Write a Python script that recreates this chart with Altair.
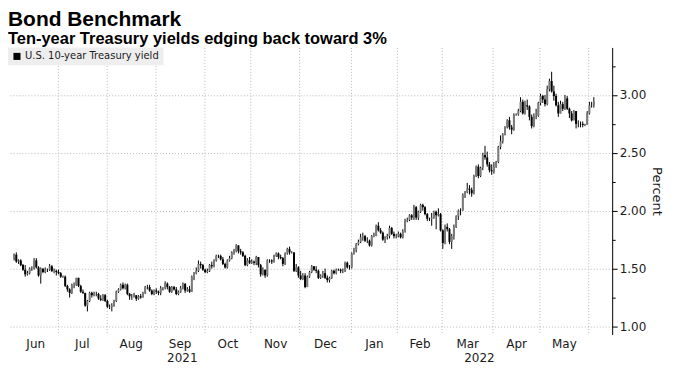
import altair as alt
import pandas as pd

TITLE = "Bond Benchmark"
SUBTITLE = "Ten-year Treasury yields edging back toward 3%"
SERIES = "U.S. 10-year Treasury yield"
Y_TITLE = "Percent"
FIRST_DAY = "2021-06-03"
LAST_DAY = "2022-06-03"
y_major = [1.0, 1.5, 2.0, 2.5, 3.0]
y_minor = [1.25, 1.75, 2.25, 2.75, 3.25]

opens = [
    1.59,1.62,1.56,1.57,1.53,1.49,1.45,1.46,1.50,1.50,1.57,1.51,1.44,1.50,1.47,1.49,1.49,1.52,1.48,1.48,
    1.47,1.46,1.43,1.43,1.35,1.32,1.29,1.36,1.36,1.42,1.35,1.30,1.29,1.18,1.22,1.29,1.27,1.28,1.28,1.24,1.23,1.27,
    1.22,1.17,1.17,1.18,1.22,1.30,1.32,1.36,1.33,1.36,1.28,1.26,1.26,1.27,1.24,1.26,1.25,1.29,1.34,1.34,1.31,1.28,
    1.31,1.30,1.29,1.33,1.33,1.37,1.34,1.30,1.34,1.32,1.28,1.30,1.33,1.37,1.31,1.32,1.30,1.43,1.46,1.48,1.54,1.53,
    1.49,1.47,1.48,1.53,1.52,1.57,1.61,1.61,1.58,1.54,1.51,1.57,1.59,1.64,1.65,1.70,1.65,1.64,1.61,1.53,1.57,
    1.55,1.56,1.55,1.60,1.53,1.45,1.49,1.44,1.57,1.57,1.56,1.61,1.63,1.60,1.59,1.54,1.63,1.67,1.64,1.64,1.48,1.51,
    1.44,1.41,1.44,1.34,1.43,1.47,1.52,1.49,1.48,1.42,1.44,1.46,1.42,1.40,1.42,1.48,1.46,1.49,1.49,1.48,1.48,1.55,1.51,
    1.51,1.63,1.66,1.71,1.73,1.77,1.78,1.74,1.74,1.70,1.78,1.78,1.87,1.83,1.81,1.75,1.77,1.78,1.85,1.80,1.78,
    1.78,1.80,1.77,1.82,1.91,1.92,1.96,1.94,2.03,1.94,1.99,2.05,2.03,1.97,1.93,1.93,1.94,1.99,1.96,1.97,
    1.83,1.72,1.86,1.84,1.73,1.78,1.86,1.95,2.00,2.00,2.14,2.16,2.19,2.18,2.15,2.30,2.38,2.30,2.37,2.48,2.46,2.40,2.35,
    2.34,2.38,2.42,2.55,2.60,2.66,2.72,2.78,2.72,2.70,2.83,2.83,2.86,2.94,2.84,2.91,2.90,2.81,2.73,2.82,2.82,
    2.93,2.99,2.96,2.92,3.05,3.12,3.03,2.99,2.91,2.84,2.92,2.88,2.97,2.88,2.84,2.78,2.86,2.75,2.75,2.75,2.74,2.74,
    2.84,2.91,2.91,
]
highs = [
    1.63,1.64,1.58,1.58,1.54,1.53,1.48,1.51,1.52,1.59,1.59,1.52,1.51,1.50,1.51,1.50,1.54,1.53,1.50,1.49,
    1.49,1.47,1.44,1.44,1.36,1.33,1.37,1.38,1.42,1.42,1.36,1.32,1.29,1.23,1.30,1.30,1.30,1.30,1.29,1.27,1.28,1.28,
    1.23,1.19,1.20,1.23,1.31,1.33,1.37,1.38,1.37,1.37,1.29,1.28,1.29,1.27,1.27,1.28,1.30,1.35,1.36,1.36,1.32,1.32,
    1.33,1.31,1.35,1.34,1.39,1.38,1.35,1.35,1.35,1.34,1.31,1.35,1.38,1.37,1.34,1.35,1.44,1.47,1.51,1.57,1.56,1.54,
    1.50,1.50,1.54,1.56,1.58,1.62,1.62,1.62,1.60,1.55,1.58,1.61,1.65,1.67,1.71,1.70,1.67,1.65,1.62,1.59,1.60,
    1.58,1.57,1.61,1.60,1.54,1.51,1.49,1.58,1.58,1.58,1.62,1.64,1.64,1.62,1.60,1.64,1.68,1.69,1.65,1.64,1.54,1.52,
    1.48,1.46,1.46,1.44,1.48,1.53,1.52,1.52,1.49,1.45,1.48,1.50,1.44,1.43,1.49,1.49,1.50,1.50,1.50,1.50,1.56,1.56,1.53,
    1.64,1.68,1.72,1.75,1.80,1.81,1.79,1.77,1.75,1.79,1.81,1.88,1.90,1.85,1.82,1.78,1.80,1.87,1.86,1.82,1.80,
    1.82,1.81,1.84,1.93,1.94,1.97,1.97,2.05,2.04,2.00,2.06,2.06,2.04,1.98,1.94,1.98,2.00,2.00,2.02,1.98,
    1.84,1.88,1.89,1.85,1.80,1.88,1.96,2.01,2.02,2.15,2.17,2.24,2.22,2.20,2.31,2.39,2.40,2.38,2.50,2.56,2.51,2.42,2.40,
    2.42,2.43,2.56,2.65,2.67,2.73,2.79,2.81,2.74,2.84,2.84,2.88,2.98,2.96,2.95,2.96,2.91,2.83,2.84,2.88,2.94,
    3.01,3.00,3.00,3.08,3.14,3.20,3.08,3.01,2.94,2.95,2.94,3.00,2.99,2.89,2.86,2.87,2.86,2.78,2.77,2.77,2.75,2.86,
    2.94,2.94,2.98,
]
lows = [
    1.57,1.55,1.54,1.52,1.48,1.43,1.44,1.45,1.48,1.49,1.50,1.43,1.37,1.46,1.46,1.47,1.48,1.47,1.46,1.44,
    1.45,1.42,1.42,1.34,1.30,1.25,1.28,1.33,1.35,1.34,1.29,1.28,1.17,1.13,1.21,1.25,1.26,1.26,1.23,1.22,1.22,1.21,
    1.16,1.15,1.13,1.17,1.21,1.29,1.31,1.32,1.32,1.27,1.23,1.23,1.25,1.22,1.23,1.24,1.25,1.28,1.32,1.30,1.27,1.27,
    1.28,1.27,1.27,1.31,1.32,1.32,1.29,1.29,1.31,1.27,1.27,1.29,1.32,1.29,1.30,1.29,1.30,1.40,1.45,1.47,1.50,1.48,
    1.46,1.46,1.47,1.50,1.51,1.56,1.59,1.57,1.53,1.50,1.50,1.56,1.58,1.62,1.64,1.63,1.62,1.60,1.52,1.52,1.54,
    1.54,1.53,1.53,1.51,1.43,1.44,1.42,1.43,1.55,1.54,1.55,1.60,1.58,1.58,1.52,1.53,1.62,1.62,1.63,1.47,1.47,1.42,
    1.40,1.40,1.33,1.34,1.42,1.46,1.48,1.46,1.41,1.41,1.42,1.41,1.38,1.38,1.41,1.45,1.45,1.48,1.46,1.46,1.47,1.50,1.49,
    1.50,1.62,1.64,1.70,1.72,1.74,1.73,1.72,1.69,1.69,1.77,1.78,1.82,1.80,1.74,1.72,1.75,1.76,1.79,1.76,1.76,
    1.77,1.76,1.76,1.81,1.90,1.91,1.92,1.92,1.92,1.92,1.98,2.00,1.96,1.91,1.91,1.87,1.93,1.84,1.95,1.82,
    1.67,1.71,1.82,1.71,1.67,1.75,1.85,1.92,1.96,2.00,2.11,2.15,2.14,2.12,2.14,2.29,2.28,2.29,2.35,2.44,2.38,2.33,2.31,
    2.32,2.37,2.41,2.53,2.58,2.65,2.71,2.70,2.66,2.69,2.82,2.82,2.85,2.83,2.83,2.87,2.78,2.71,2.72,2.79,2.81,
    2.91,2.93,2.90,2.91,3.03,3.02,2.95,2.90,2.81,2.84,2.86,2.87,2.87,2.80,2.77,2.78,2.71,2.72,2.72,2.72,2.73,2.74,
    2.83,2.89,2.89,
]
closes = [
    1.62,1.56,1.57,1.53,1.49,1.45,1.46,1.50,1.50,1.57,1.51,1.44,1.50,1.47,1.49,1.49,1.52,1.48,1.48,1.47,
    1.46,1.43,1.43,1.35,1.32,1.29,1.36,1.36,1.42,1.35,1.30,1.29,1.18,1.22,1.29,1.27,1.28,1.28,1.24,1.23,1.27,1.22,
    1.17,1.17,1.18,1.22,1.30,1.32,1.36,1.33,1.36,1.28,1.26,1.26,1.27,1.24,1.26,1.25,1.29,1.34,1.34,1.31,1.28,1.31,
    1.30,1.29,1.33,1.33,1.37,1.34,1.30,1.34,1.32,1.28,1.30,1.33,1.37,1.31,1.32,1.30,1.43,1.46,1.48,1.54,1.53,1.49,
    1.47,1.48,1.53,1.52,1.57,1.61,1.61,1.58,1.54,1.51,1.57,1.59,1.64,1.65,1.70,1.65,1.64,1.61,1.53,1.57,1.55,
    1.56,1.55,1.60,1.53,1.45,1.49,1.44,1.57,1.57,1.56,1.61,1.63,1.60,1.59,1.54,1.63,1.67,1.64,1.64,1.48,1.51,1.44,
    1.41,1.44,1.34,1.43,1.47,1.52,1.49,1.48,1.42,1.44,1.46,1.42,1.40,1.42,1.48,1.46,1.49,1.49,1.48,1.48,1.55,1.51,1.51,
    1.63,1.66,1.71,1.73,1.77,1.78,1.74,1.74,1.70,1.78,1.78,1.87,1.83,1.81,1.75,1.77,1.78,1.85,1.80,1.78,1.78,
    1.80,1.77,1.82,1.91,1.92,1.96,1.94,2.03,1.94,1.99,2.05,2.03,1.97,1.93,1.93,1.94,1.99,1.96,1.97,1.83,
    1.72,1.86,1.84,1.73,1.78,1.86,1.95,2.00,2.00,2.14,2.16,2.19,2.18,2.15,2.30,2.38,2.30,2.37,2.48,2.46,2.40,2.35,2.34,
    2.38,2.42,2.55,2.60,2.66,2.72,2.78,2.72,2.70,2.83,2.83,2.86,2.94,2.84,2.91,2.90,2.81,2.73,2.82,2.82,2.93,
    2.99,2.96,2.92,3.05,3.12,3.03,2.99,2.91,2.84,2.92,2.88,2.97,2.88,2.84,2.78,2.86,2.75,2.75,2.75,2.74,2.74,2.84,
    2.91,2.91,2.94,
]

# ---- table (weekday index as x, like the source's trading-day axis) ----
dates = pd.bdate_range(FIRST_DAY, LAST_DAY)
df = pd.DataFrame({"i": range(len(dates)), "open": opens, "high": highs,
                   "low": lows, "close": closes})
df["series"] = SERIES

X_MIN, X_MAX = -0.5, 267.0

# month boundaries (grid) and month/year label positions derived from the dates
idx = pd.Series(range(len(dates)), index=dates)
month_bounds, month_mids, month_names = [], [], []
for (yr, mo), g in idx.groupby([dates.year, dates.month]):
    first, last = int(g.iloc[0]), int(g.iloc[-1])
    if first > 0:
        month_bounds.append(first - 0.5)
    if last - first + 1 >= 10:
        lo = max(first - 0.5, X_MIN)
        hi = min(last + 0.5, X_MAX)
        month_mids.append((lo + hi) / 2)
        month_names.append(pd.Timestamp(yr, mo, 1).strftime("%b"))
year_mids, year_names = [], []
years = sorted(set(dates.year))
for k, yr in enumerate(years):
    g = idx[dates.year == yr]
    lo = max(int(g.iloc[0]) - 0.5, X_MIN)
    hi = X_MAX if k == len(years) - 1 else int(g.iloc[-1]) + 0.5
    year_mids.append((lo + hi) / 2)
    year_names.append(str(yr))


def label_expr(vals, names):
    v = ",".join(repr(float(x)) for x in vals)
    n = ",".join("'" + s + "'" for s in names)
    return f"[{n}][indexof([{v}], datum.value)]"


FONT = "DejaVu Sans"
TFONT = "Liberation Sans"
TXT = "#1a1a1a"
grid_kw = dict(gridColor="#b8b8b8", gridDash=[1, 2], gridWidth=1)

xscale = alt.Scale(domain=[X_MIN, X_MAX], nice=False, zero=False)
yscale = alt.Scale(domain=[0.93, 3.41], nice=False, zero=False)

wicks = alt.Chart(df).mark_rule(strokeWidth=1).encode(
    x=alt.X("i:Q", scale=xscale,
            axis=alt.Axis(orient="bottom", values=month_bounds, grid=True, labels=False,
                          ticks=False, domain=False, title=None, **grid_kw)),
    y=alt.Y("low:Q", scale=yscale,
            axis=alt.Axis(orient="right", values=y_major, format=".2f", grid=True,
                          tickSize=5, tickColor="black", domain=True, domainColor="black",
                          labelPadding=2, labelFontSize=12, labelFont=FONT, labelColor=TXT,
                          title=Y_TITLE, titleFontSize=13, titleFont=FONT,
                          titleFontWeight="normal", titleColor=TXT, titlePadding=4,
                          **grid_kw)),
    y2="high:Q",
    color=alt.Color("series:N", scale=alt.Scale(range=["black"]),
                    legend=alt.Legend(orient="top-left", offset=0, padding=4,
                                      fillColor="#eeeeee", title=None,
                                      symbolType="square", symbolSize=50,
                                      symbolFillColor="black", symbolStrokeColor="black",
                                      symbolStrokeWidth=0, labelFont=FONT,
                                      labelFontSize=10, labelColor=TXT, labelOffset=3)),
)

ups = alt.Chart(df).transform_filter("datum.close >= datum.open").mark_bar(
    size=2, color="#7a7a7a").encode(
    x=alt.X("i:Q", scale=xscale,
            axis=alt.Axis(orient="bottom", values=month_mids,
                          labelExpr=label_expr(month_mids, month_names),
                          grid=False, ticks=False, domain=False, title=None,
                          labelPadding=4, labelFontSize=12, labelFont=FONT,
                          labelColor=TXT, labelFlush=False, labelOverlap=False)),
    y=alt.Y("open:Q", scale=yscale,
            axis=alt.Axis(orient="right", values=y_minor, labels=False, grid=False,
                          domain=False, tickSize=3, tickColor="black", title=None)),
    y2="close:Q",
)

downs = alt.Chart(df).transform_filter("datum.close < datum.open").mark_bar(
    size=2, color="black").encode(
    x=alt.X("i:Q", scale=xscale,
            axis=alt.Axis(orient="bottom", values=year_mids,
                          labelExpr=label_expr(year_mids, year_names),
                          grid=False, ticks=False, domain=False, title=None,
                          labelPadding=18, labelFontSize=12, labelFont=FONT,
                          labelColor=TXT, labelFlush=False, labelOverlap=False)),
    y=alt.Y("open:Q", scale=yscale, axis=None),
    y2="close:Q",
)

chart = alt.layer(wicks, ups, downs).resolve_axis(
    x="independent", y="independent"
).properties(
    width=606,
    height=288,
    padding={"left": 0, "top": 0, "right": 4, "bottom": 2},
    title=alt.TitleParams(
        TITLE, subtitle=SUBTITLE, anchor="start", frame="group",
        font=TFONT, fontSize=21, fontWeight="bold", color="black",
        subtitleFont=TFONT, subtitleFontSize=16.5, subtitleFontWeight="bold",
        subtitleColor="black", subtitlePadding=1, offset=0,
    ),
).configure_view(stroke=None)

chart.save("out.html", embed_options={"renderer": "svg", "actions": False})
